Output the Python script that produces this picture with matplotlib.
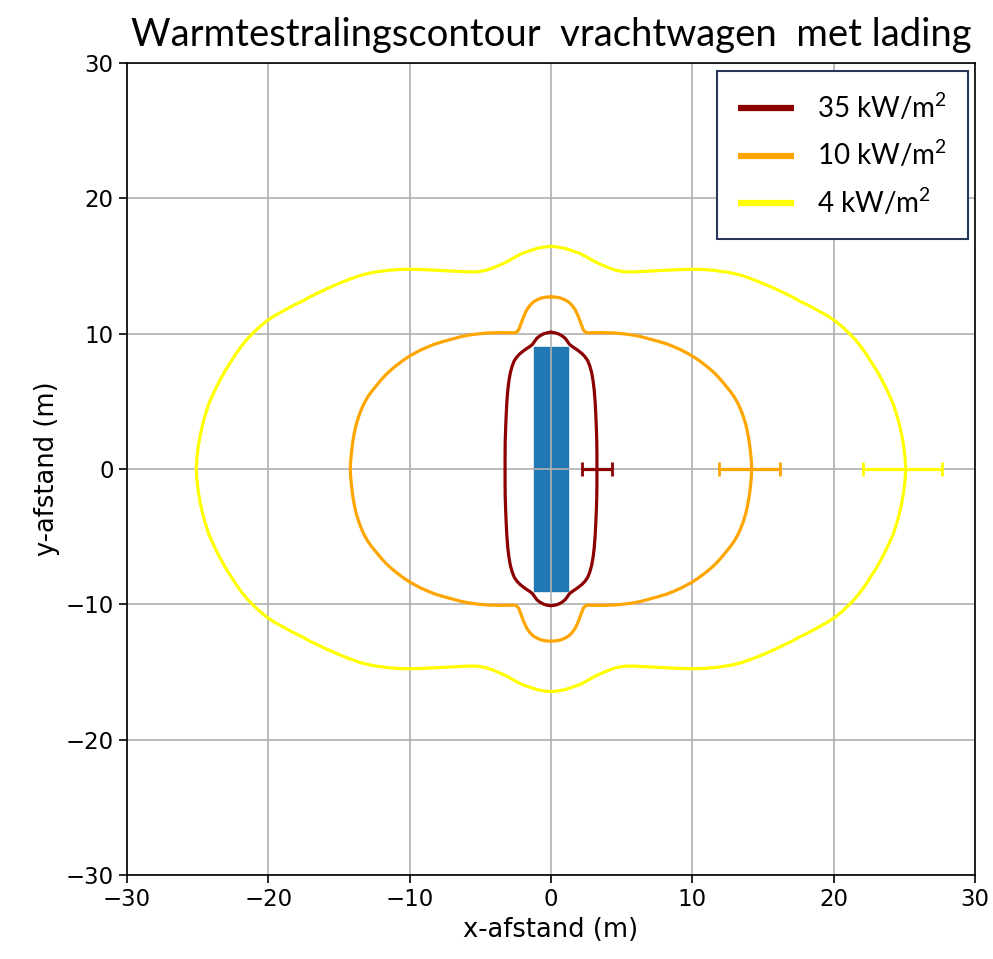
import matplotlib
matplotlib.use("Agg")
import matplotlib.pyplot as plt
from matplotlib.patches import Rectangle
import numpy as np

plt.rcParams["mathtext.fontset"] = "custom"
plt.rcParams["mathtext.rm"] = "Lato"
plt.rcParams["mathtext.it"] = "Lato:italic"
plt.rcParams["mathtext.bf"] = "Lato:bold"

# ---- data (first quadrant of each symmetric contour, from x=0 top to y=0) ----
c35_x = [0, 0.3, 0.54, 0.8, 1.0, 1.15, 1.3, 1.5, 1.75, 1.96, 2.2, 2.4, 2.6, 2.75, 2.88,
         2.98, 3.06, 3.12, 3.17, 3.21, 3.24, 3.25, 3.25]
c35_y = [10.1, 10.06, 9.98, 9.83, 9.66, 9.45, 9.22, 9.05, 8.88, 8.72, 8.52, 8.3, 8.0, 7.6,
         7.1, 6.5, 5.8, 5.0, 4.0, 3.0, 2.0, 1.0, 0]

c10_x = [0, 0.35, 0.66, 0.95, 1.25, 1.5, 1.72, 1.9, 2.05, 2.17, 2.28, 2.42, 2.6, 3.0, 3.5,
         4.5, 5.2, 5.8, 6.4, 7.0, 7.6, 8.2, 8.7, 9.2, 9.6, 10.0, 10.5, 11.0, 11.4, 11.7,
         12.05, 12.4, 12.7, 12.95, 13.2, 13.4, 13.6, 13.78, 13.92, 14.04, 14.13, 14.18, 14.2]
c10_y = [12.72, 12.7, 12.64, 12.52, 12.34, 12.08, 11.75, 11.35, 10.95, 10.6, 10.3, 10.12,
         10.06, 10.07, 10.08, 10.05, 9.98, 9.9, 9.77, 9.6, 9.43, 9.24, 9.03, 8.8, 8.58,
         8.35, 8.0, 7.6, 7.25, 6.95, 6.55, 6.1, 5.72, 5.35, 4.9, 4.45, 3.9, 3.3, 2.65,
         1.9, 1.1, 0.5, 0]

c4_x = [0, 0.5, 1.0, 1.5, 2.05, 2.6, 3.1, 3.6, 4.1, 4.6, 5.2, 5.8, 6.5, 7.2, 8.0, 9.0,
        10.0, 10.8, 11.6, 12.3, 12.9, 13.5, 14.1, 14.7, 15.3, 15.9, 16.5, 17.1, 17.6, 18.3,
        19.0, 19.6, 20.1, 20.6, 21.0, 21.5, 21.9, 22.3, 22.6, 23.0, 23.3, 23.6, 23.9, 24.2,
        24.45, 24.65, 24.82, 24.95, 25.05, 25.1]
c4_y = [16.45, 16.4, 16.3, 16.12, 15.93, 15.62, 15.32, 15.08, 14.86, 14.68, 14.57, 14.56,
        14.6, 14.64, 14.68, 14.73, 14.76, 14.74, 14.67, 14.57, 14.46, 14.3, 14.08, 13.84,
        13.58, 13.3, 13.0, 12.7, 12.4, 12.05, 11.65, 11.3, 10.95, 10.52, 10.12, 9.6, 9.08,
        8.5, 8.0, 7.35, 6.8, 6.2, 5.55, 4.85, 4.05, 3.3, 2.5, 1.7, 0.85, 0]

err_center = [3.25, 14.05, 24.9]
err_half = [1.05, 2.15, 2.8]

truck_halfwidth = 1.2
truck_halflength = 9.0

labels = ["35 kW/m$^2$", "10 kW/m$^2$", "4 kW/m$^2$"]
colors = ["#8B0000", "#FFA500", "#FFFF00"]
ticks = [-30, -20, -10, 0, 10, 20, 30]


def full_contour(qx, qy):
    qx = np.asarray(qx, float)
    qy = np.asarray(qy, float)
    x = np.concatenate([qx, qx[::-1][1:], -qx[1:], -qx[::-1][1:]])
    y = np.concatenate([qy, -qy[::-1][1:], -qy[1:], qy[::-1][1:]])
    return x, y


fig = plt.figure(figsize=(9.93, 9.59), dpi=100)
ax = fig.add_axes([127 / 993, 1 - 875 / 959, 848 / 993, 812 / 959])

ax.add_patch(Rectangle((-truck_halfwidth, -truck_halflength), 2 * truck_halfwidth,
                       2 * truck_halflength, color="#1f77b4", zorder=1))

contours = [(c35_x, c35_y), (c10_x, c10_y), (c4_x, c4_y)]
for (qx, qy), col, lab, xc, xe in zip(contours, colors, labels, err_center, err_half):
    x, y = full_contour(qx, qy)
    ax.plot(x, y, color=col, lw=2.3, label=lab, zorder=2,
            solid_joinstyle="round")
    ax.errorbar([xc], [0], xerr=[xe], color=col, lw=2.3, capsize=5, capthick=2.0,
                fmt="none", zorder=2)

ax.set_xlim(-30, 30)
ax.set_ylim(-30, 30)
ax.set_xticks(ticks)
ax.set_yticks(ticks)
ax.grid(True, color="#b0b0b0", lw=1.2)
ax.tick_params(labelsize=16.5, length=6, width=1.2)
for s in ax.spines.values():
    s.set_linewidth(1.2)
ax.set_xlabel("x-afstand (m)", fontsize=18.5, labelpad=4)
ax.set_ylabel("y-afstand (m)", fontsize=18.5, labelpad=4)
ax.set_title("Warmtestralingscontour  vrachtwagen  met lading", fontsize=27.5,
             family="Lato", pad=12)

leg = ax.legend(loc="upper right", bbox_to_anchor=(0.992, 0.990), borderaxespad=0,
                fancybox=False, framealpha=1, edgecolor="#27365A",
                prop={"family": "Lato", "size": 20}, handlelength=2.0,
                handletextpad=0.85, labelspacing=0.58, borderpad=0.75)
leg.get_frame().set_linewidth(1.5)
for h in leg.get_lines():
    h.set_linewidth(4.5)
    h.set_solid_capstyle("butt")

fig.savefig("out.png", dpi=100)
